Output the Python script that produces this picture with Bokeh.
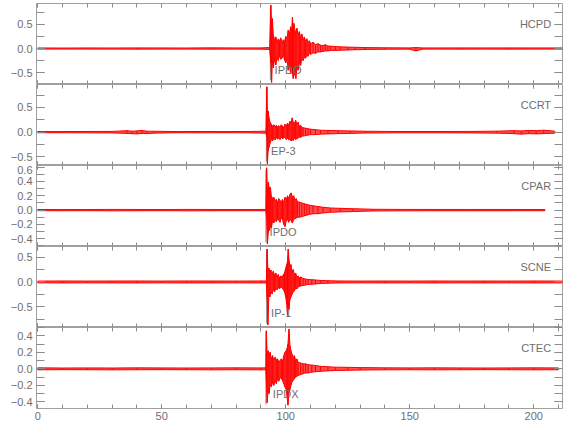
from bokeh.plotting import figure
from bokeh.models import (Range1d, LinearAxis, SingleIntervalTicker,
                          CustomJSTickFormatter, Label, ColumnDataSource)
from bokeh.layouts import column
from bokeh.embed import file_html
from bokeh.resources import INLINE

# ---------------- data ----------------
stations = ["HCPD", "CCRT", "CPAR", "SCNE", "CTEC"]
phases = ["IPDO", "EP-3", "IPDO", "IP-1", "IPDX"]
pick_times = [93.8, 92.2, 92.0, 92.3, 92.0]
phase_x = [95.5, 94.1, 93.5, 94.1, 94.8]
phase_y = [-0.45, -0.385, -0.30, -0.62, -0.30]

y_lo = [-0.744, -0.676, -0.507, -0.913, -0.48]
y_hi = [0.931, 0.966, 0.622, 0.711, 0.50]
y_major = [0.5, 0.5, 0.2, 0.5, 0.2]

x_start, x_end = -0.5, 211.6

hcpd_t = [0, 10, 20, 30, 40, 50, 60, 70, 80, 90,
          93.5, 94.0, 94.3, 94.6, 95.0, 95.5, 96.0, 96.5, 97.0, 97.5,
          98.0, 98.5, 99.0, 99.5, 100.0, 100.5, 101.0, 101.5, 102.0, 102.4,
          102.7, 103.0, 103.3, 103.7, 104.1, 104.5, 105.0, 105.5, 106.0, 106.5,
          107.0, 107.5, 108.0, 108.5, 109.0, 109.5, 110.0, 111.0, 112.0, 113.0,
          114.0, 115.0, 116.0, 117.0, 118.0, 120.0, 122.0, 125.0, 128.0, 132.0,
          140, 150, 152.5, 155, 160, 170, 180, 190, 200, 212]
hcpd_hi = [0.012, 0.010, 0.012, 0.011, 0.013, 0.012, 0.011, 0.014, 0.012, 0.013,
           0.02, 0.90, 0.45, 0.62, 0.28, 0.18, 0.24, 0.12, 0.20, 0.15,
           0.22, 0.10, 0.18, 0.14, 0.25, 0.20, 0.38, 0.30, 0.45, 0.35,
           0.65, 0.40, 0.52, 0.38, 0.30, 0.42, 0.28, 0.35, 0.22, 0.30,
           0.18, 0.24, 0.15, 0.20, 0.12, 0.16, 0.10, 0.13, 0.08, 0.10,
           0.07, 0.06, 0.08, 0.05, 0.05, 0.04, 0.035, 0.03, 0.025, 0.02,
           0.015, 0.013, 0.02, 0.013, 0.012, 0.013, 0.012, 0.013, 0.012, 0.012]
hcpd_lo = [-0.012, -0.011, -0.012, -0.012, -0.013, -0.012, -0.012, -0.013, -0.012, -0.013,
           -0.02, -0.30, -0.70, -0.25, -0.40, -0.22, -0.34, -0.18, -0.25, -0.15,
           -0.22, -0.20, -0.12, -0.24, -0.30, -0.20, -0.45, -0.35, -0.52, -0.40,
           -0.48, -0.62, -0.45, -0.55, -0.62, -0.38, -0.45, -0.30, -0.35, -0.22,
           -0.25, -0.18, -0.20, -0.14, -0.16, -0.10, -0.12, -0.09, -0.10, -0.07,
           -0.07, -0.06, -0.05, -0.05, -0.04, -0.04, -0.035, -0.03, -0.025, -0.02,
           -0.015, -0.013, -0.05, -0.013, -0.012, -0.013, -0.012, -0.013, -0.012, -0.012]

ccrt_t = [0, 10, 20, 30, 36, 38, 40, 42, 44, 47,
          55, 65, 75, 85, 92.0, 92.4, 92.6, 92.9, 93.3, 93.7,
          94.2, 94.7, 95.2, 95.7, 96.2, 96.7, 97.2, 97.7, 98.2, 98.7,
          99.2, 99.7, 100.2, 100.7, 101.2, 101.7, 102.2, 102.6, 103.0, 103.5,
          104.0, 104.5, 105.0, 105.5, 106.0, 106.5, 107.0, 108.0, 109.0, 110.0,
          112.0, 114.0, 117.0, 121.0, 126.0, 132, 145, 160, 175, 185,
          192, 195, 198, 201, 204, 208.5]
ccrt_hi = [0.012, 0.012, 0.014, 0.015, 0.03, 0.02, 0.025, 0.035, 0.02, 0.018,
           0.012, 0.013, 0.012, 0.013, 0.02, 0.92, 0.35, 0.43, 0.28, 0.20,
           0.16, 0.12, 0.15, 0.10, 0.14, 0.11, 0.13, 0.09, 0.15, 0.12,
           0.10, 0.16, 0.13, 0.18, 0.15, 0.22, 0.18, 0.29, 0.20, 0.18,
           0.24, 0.16, 0.20, 0.12, 0.14, 0.10, 0.09, 0.08, 0.07, 0.06,
           0.05, 0.04, 0.035, 0.03, 0.025, 0.018, 0.013, 0.013, 0.015, 0.02,
           0.03, 0.025, 0.035, 0.03, 0.04, 0.02]
ccrt_lo = [-0.012, -0.012, -0.014, -0.015, -0.025, -0.03, -0.035, -0.025, -0.03, -0.02,
           -0.012, -0.013, -0.012, -0.013, -0.02, -0.10, -0.64, -0.38, -0.30, -0.22,
           -0.15, -0.18, -0.12, -0.16, -0.10, -0.14, -0.12, -0.15, -0.10, -0.13,
           -0.12, -0.10, -0.15, -0.12, -0.16, -0.13, -0.18, -0.14, -0.17, -0.12,
           -0.15, -0.13, -0.12, -0.10, -0.11, -0.08, -0.08, -0.07, -0.06, -0.05,
           -0.05, -0.04, -0.035, -0.03, -0.025, -0.018, -0.013, -0.013, -0.015, -0.02,
           -0.03, -0.04, -0.03, -0.035, -0.03, -0.02]

cpar_t = [0, 10, 20, 30, 40, 50, 60, 70, 80, 90,
          92.0, 92.3, 92.6, 93.0, 93.4, 93.8, 94.2, 94.7, 95.2, 95.7,
          96.2, 96.7, 97.2, 97.7, 98.2, 98.7, 99.2, 99.7, 100.2, 100.7,
          101.2, 101.7, 102.2, 102.7, 103.2, 103.7, 104.2, 104.7, 105.5, 106.5,
          107.5, 108.5, 109.5, 111.0, 113.0, 115.0, 118.0, 122.0, 127.0, 135,
          145, 160, 175, 190, 204.5]
cpar_hi = [0.008, 0.009, 0.008, 0.010, 0.009, 0.008, 0.010, 0.009, 0.008, 0.009,
           0.01, 0.59, 0.25, 0.39, 0.30, 0.32, 0.20, 0.16, 0.18, 0.12,
           0.15, 0.10, 0.16, 0.13, 0.12, 0.15, 0.10, 0.18, 0.14, 0.20,
           0.16, 0.22, 0.24, 0.18, 0.20, 0.14, 0.16, 0.12, 0.11, 0.10,
           0.09, 0.08, 0.07, 0.06, 0.05, 0.04, 0.03, 0.025, 0.02, 0.012,
           0.010, 0.009, 0.009, 0.009, 0.008]
cpar_lo = [-0.008, -0.009, -0.008, -0.010, -0.009, -0.008, -0.010, -0.009, -0.008, -0.009,
           -0.01, -0.10, -0.47, -0.30, -0.28, -0.22, -0.25, -0.15, -0.18, -0.13,
           -0.16, -0.12, -0.14, -0.17, -0.11, -0.13, -0.20, -0.23, -0.15, -0.13,
           -0.17, -0.12, -0.15, -0.18, -0.13, -0.12, -0.11, -0.10, -0.10, -0.09,
           -0.08, -0.07, -0.06, -0.05, -0.05, -0.04, -0.03, -0.025, -0.02, -0.012,
           -0.010, -0.009, -0.009, -0.009, -0.008]

scne_t = [0, 10, 20, 30, 40, 50, 60, 70, 80, 90,
          92.2, 92.5, 92.8, 93.2, 93.6, 94.0, 94.5, 95.0, 95.5, 96.0,
          96.5, 97.0, 97.5, 98.0, 98.5, 99.0, 99.5, 100.0, 100.4, 100.7,
          101.0, 101.3, 101.7, 102.1, 102.5, 103.0, 103.5, 104.0, 104.5, 105.0,
          105.5, 106.0, 107.0, 108.0, 109.0, 110.5, 112.0, 114.0, 117.0, 121.0,
          130, 140, 150, 160, 170, 180, 190, 200, 212]
scne_hi = [0.018, 0.02, 0.018, 0.019, 0.02, 0.018, 0.02, 0.019, 0.018, 0.02,
           0.02, 0.66, 0.25, 0.28, 0.20, 0.24, 0.15, 0.22, 0.12, 0.18,
           0.10, 0.15, 0.08, 0.12, 0.10, 0.14, 0.18, 0.28, 0.35, 0.40,
           0.66, 0.45, 0.30, 0.35, 0.20, 0.25, 0.15, 0.18, 0.10, 0.12,
           0.08, 0.10, 0.07, 0.06, 0.05, 0.045, 0.04, 0.03, 0.025, 0.02,
           0.018, 0.019, 0.018, 0.02, 0.018, 0.019, 0.018, 0.02, 0.018]
scne_lo = [-0.018, -0.02, -0.018, -0.019, -0.02, -0.018, -0.02, -0.019, -0.018, -0.02,
           -0.02, -0.30, -0.86, -0.25, -0.30, -0.20, -0.24, -0.15, -0.20, -0.12,
           -0.16, -0.10, -0.14, -0.09, -0.12, -0.15, -0.20, -0.30, -0.45, -0.67,
           -0.40, -0.55, -0.35, -0.30, -0.25, -0.20, -0.18, -0.12, -0.14, -0.10,
           -0.09, -0.08, -0.07, -0.06, -0.05, -0.045, -0.04, -0.03, -0.025, -0.02,
           -0.018, -0.019, -0.018, -0.02, -0.018, -0.019, -0.018, -0.02, -0.018]

ctec_t = [0, 10, 20, 30, 40, 50, 60, 70, 80, 90,
          92.0, 92.2, 92.5, 92.9, 93.3, 93.7, 94.2, 94.7, 95.2, 95.7,
          96.2, 96.7, 97.2, 97.7, 98.2, 98.7, 99.2, 99.7, 100.2, 100.6,
          100.9, 101.3, 101.7, 102.1, 102.5, 103.0, 103.5, 104.0, 104.5, 105.0,
          106.0, 107.0, 108.0, 109.0, 110.5, 112.0, 114.0, 117.0, 120.0, 125.0,
          130, 140, 150, 160, 170, 180, 190, 200, 210]
ctec_hi = [0.012, 0.010, 0.011, 0.010, 0.012, 0.011, 0.010, 0.011, 0.012, 0.011,
           0.012, 0.46, 0.15, 0.22, 0.18, 0.20, 0.12, 0.16, 0.10, 0.14,
           0.11, 0.12, 0.08, 0.10, 0.12, 0.09, 0.16, 0.20, 0.22, 0.25,
           0.30, 0.48, 0.28, 0.22, 0.18, 0.14, 0.16, 0.10, 0.12, 0.08,
           0.07, 0.06, 0.06, 0.05, 0.045, 0.04, 0.03, 0.025, 0.02, 0.018,
           0.015, 0.012, 0.011, 0.012, 0.011, 0.010, 0.011, 0.012, 0.011]
ctec_lo = [-0.012, -0.010, -0.011, -0.012, -0.011, -0.010, -0.011, -0.012, -0.011, -0.012,
           -0.012, -0.15, -0.41, -0.25, -0.30, -0.18, -0.22, -0.16, -0.20, -0.14,
           -0.18, -0.12, -0.15, -0.10, -0.12, -0.14, -0.18, -0.22, -0.25, -0.35,
           -0.44, -0.30, -0.25, -0.20, -0.16, -0.14, -0.12, -0.10, -0.09, -0.08,
           -0.07, -0.06, -0.05, -0.05, -0.04, -0.035, -0.03, -0.025, -0.02, -0.018,
           -0.015, -0.012, -0.011, -0.012, -0.011, -0.010, -0.011, -0.012, -0.011]

traces = [(hcpd_t, hcpd_hi, hcpd_lo), (ccrt_t, ccrt_hi, ccrt_lo),
          (cpar_t, cpar_hi, cpar_lo), (scne_t, scne_hi, scne_lo),
          (ctec_t, ctec_hi, ctec_lo)]

# ---------------- styling ----------------
frame_heights = [81, 81, 81, 81, 81]
GRAY = "#a0a0a0"
TICK = "#8c8c8c"
TXT = "#6e6e6e"
FONT = "Liberation Sans"
RED = "#ff0000"

y_fmt = CustomJSTickFormatter(code="return tick.toFixed(1).replace('-', '\u2212');")
x_fmt = CustomJSTickFormatter(code="return tick.toFixed(0);")
blank = CustomJSTickFormatter(code="return '';")

figs = []
n = len(stations)
for i in range(n):
    last = (i == n - 1)
    p = figure(frame_width=526, frame_height=frame_heights[i],
               x_range=Range1d(x_start, x_end), y_range=Range1d(y_lo[i], y_hi[i]),
               x_axis_type=None, y_axis_type=None,
               output_backend="svg", toolbar_location=None,
               min_border_left=36, min_border_right=2,
               min_border_top=3 if i == 0 else 0, min_border_bottom=0)
    p.outline_line_color = GRAY
    p.outline_line_width = 1
    p.background_fill_color = "white"
    p.border_fill_color = "white"

    def yaxis(labels):
        return LinearAxis(
            ticker=SingleIntervalTicker(interval=y_major[i], num_minor_ticks=2),
            formatter=y_fmt if labels else blank,
            major_tick_in=8, major_tick_out=0, minor_tick_in=8, minor_tick_out=0,
            axis_line_color=None, major_tick_line_color=TICK,
            minor_tick_line_color=TICK,
            major_label_text_font=FONT,
            major_label_text_font_size="11px" if labels else "0px",
            major_label_text_color=TXT,
            major_label_standoff=4 if labels else 0)

    def xaxis(labels):
        return LinearAxis(
            ticker=SingleIntervalTicker(interval=50, num_minor_ticks=5),
            formatter=x_fmt if labels else blank,
            major_tick_in=4, major_tick_out=0, minor_tick_in=4, minor_tick_out=0,
            axis_line_color=None,
            major_tick_line_color=TICK, minor_tick_line_color=TICK,
            major_label_text_font=FONT,
            major_label_text_font_size="11px" if labels else "0px",
            major_label_text_color=TXT,
            major_label_standoff=3 if labels else 0)

    p.add_layout(yaxis(True), "left")
    p.add_layout(yaxis(False), "right")
    p.add_layout(xaxis(last), "below")
    p.add_layout(xaxis(False), "above")

    # pick line (under the trace)
    span = y_hi[i] - y_lo[i]
    p.segment(x0=[pick_times[i]], y0=[y_lo[i] + 0.05 * span],
              x1=[pick_times[i]], y1=[y_hi[i] - 0.05 * span],
              line_color="#909090", line_width=1)

    t, hi, lo = traces[i]
    src = ColumnDataSource(dict(t=t, hi=hi, lo=lo))
    p.varea(x="t", y1="lo", y2="hi", source=src, fill_color=RED, fill_alpha=0.7)
    p.segment(x0="t", y0="lo", x1="t", y1="hi", source=src,
              line_color=RED, line_width=1)
    p.line(x="t", y="hi", source=src, line_color=RED, line_width=1)
    p.line(x="t", y="lo", source=src, line_color=RED, line_width=1)

    # station name
    p.add_layout(Label(x=207.0, y=y_hi[i] - (20.0 / frame_heights[i]) * span,
                       text=stations[i], text_align="right", text_baseline="middle",
                       text_font=FONT, text_font_size="11px", text_color=TXT))
    # phase label
    p.add_layout(Label(x=phase_x[i], y=phase_y[i], text=phases[i],
                       text_align="left", text_baseline="middle",
                       text_font=FONT, text_font_size="11px", text_color=TXT))
    figs.append(p)

layout = column(*figs, spacing=0)
open("out.html", "w").write(file_html(layout, INLINE))
